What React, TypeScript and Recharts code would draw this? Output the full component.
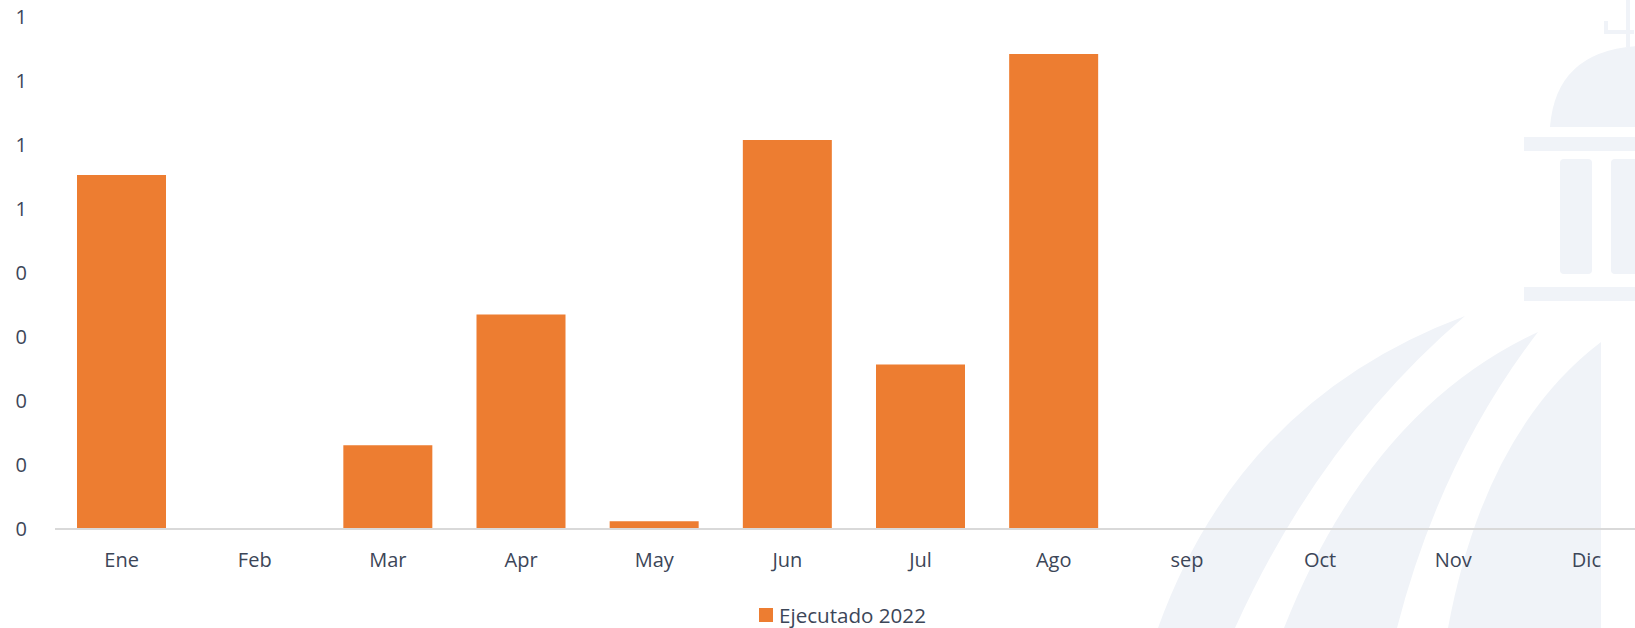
import React from 'react';
import { BarChart, Bar, XAxis, YAxis, Legend } from 'recharts';

const months = ['Ene', 'Feb', 'Mar', 'Apr', 'May', 'Jun', 'Jul', 'Ago', 'sep', 'Oct', 'Nov', 'Dic'];
const ejecutado2022 = [0.553, 0, 0.131, 0.335, 0.012, 0.608, 0.257, 0.742, null, null, null, null];
const yTicks = [0, 0.1, 0.2, 0.3, 0.4, 0.5, 0.6, 0.7, 0.8];
const yTickLabels = ['0', '0', '0', '0', '0', '1', '1', '1', '1'];
const seriesName = 'Ejecutado 2022';

const data = months.map((m, i) => ({ month: m, value: ejecutado2022[i] }));

const ORANGE = '#ED7D31';
const TEXT = '#3c4658';
const FONT = '"Open Sans", "Noto Sans", sans-serif';
const WM = '#f0f3f8';

function Watermark() {
  return (
    <svg width={1635} height={628} style={{ position: 'absolute', left: 0, top: 0 }}>
      {/* spire */}
      <rect x={1626} y={0} width={4} height={47} fill={WM} />
      <rect x={1604} y={30} width={30} height={4} fill={WM} />
      <rect x={1604} y={21} width={4} height={12} fill={WM} />
      {/* dome */}
      <path d="M 1550 127 Q 1556 50 1640 46 L 1640 127 Z" fill={WM} />
      <rect x={1524} y={137} width={120} height={14} fill={WM} />
      <rect x={1560} y={159} width={32} height={115} rx={4} fill={WM} />
      <rect x={1611} y={159} width={32} height={115} rx={4} fill={WM} />
      <rect x={1524} y={287} width={120} height={14} fill={WM} />
      {/* stripes */}
      <path d="M 1465 316 Q 1240 400 1158 628 L 1235 628 Q 1320 440 1465 316 Z" fill={WM} />
      <path d="M 1538 332 Q 1370 410 1284 628 L 1397 628 Q 1440 460 1538 332 Z" fill={WM} />
      <path d="M 1601 342 Q 1485 430 1448 628 L 1601 628 Z" fill={WM} />
    </svg>
  );
}

function LegendContent() {
  return (
    <div style={{ display: 'flex', alignItems: 'center', fontFamily: FONT, fontSize: 20.6, color: TEXT, whiteSpace: 'nowrap' }}>
      <span style={{ display: 'inline-block', width: 14, height: 14, background: ORANGE, marginRight: 6 }} />
      <span>{seriesName}</span>
    </div>
  );
}

export default function App() {
  return (
    <div style={{ position: 'absolute', left: 0, top: 0, width: 1635, height: 628, overflow: 'hidden', background: '#ffffff' }}>
      <Watermark />
      <div style={{ position: 'absolute', left: 0, top: 0 }}>
        <BarChart width={1653} height={628} data={data} margin={{ top: 17, right: 0, bottom: 0, left: 0 }}>
          <XAxis
            dataKey="month"
            height={99}
            tickLine={false}
            tickMargin={18}
            axisLine={{ stroke: '#d9d9d9', strokeWidth: 2 }}
            tick={{ fill: TEXT, fontSize: 20, fontFamily: FONT }}
            interval={0}
          />
          <YAxis
            width={55}
            domain={[0, 0.8]}
            ticks={yTicks}
            axisLine={false}
            tickLine={false}
            tickMargin={22}
            tick={{ fill: TEXT, fontSize: 20, fontFamily: FONT }}
            tickFormatter={(v: number) => yTickLabels[yTicks.indexOf(v)] ?? ''}
          />
          <Legend
            layout="vertical"
            align="center"
            verticalAlign="middle"
            content={() => <LegendContent />}
            wrapperStyle={{ position: 'absolute', left: 759, top: 601, width: 'auto', height: 'auto' }}
          />
          <Bar dataKey="value" name={seriesName} fill={ORANGE} barSize={89} isAnimationActive={false} />
        </BarChart>
      </div>
    </div>
  );
}
